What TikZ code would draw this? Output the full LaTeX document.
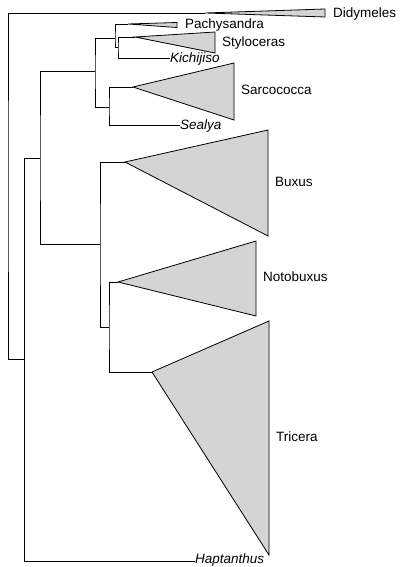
\documentclass[tikz,border=0pt]{standalone}
\usepackage{fontspec}
\setmainfont{Liberation Sans}
\begin{document}
\begin{tikzpicture}[x=1pt,y=-1pt,
  br/.style={draw=black,line width=0.8pt},
  clade/.style={draw=black,line width=0.8pt,fill=black!17,line join=miter},
  lab/.style={anchor=west,inner sep=0pt,text height=9.7pt,text depth=0pt,font=\fontsize{13.5}{14}\selectfont},
  ilab/.style={lab,font=\fontsize{13.5}{14}\selectfont\itshape}]
\useasboundingbox (0,0) rectangle (401,567);
% internal nodes
\coordinate (R) at (8,186);
\coordinate (A) at (24.5,359);
\coordinate (B) at (40,158);
\coordinate (C) at (95,71);
\coordinate (F) at (115,38);
\coordinate (I) at (118,47);
\coordinate (G) at (109,107);
\coordinate (E) at (100,244);
\coordinate (J) at (109,327);
% clade apices
\coordinate (dA) at (205,13);
\coordinate (pA) at (128,24);
\coordinate (sA) at (135,37);
\coordinate (scA) at (133,87);
\coordinate (bA) at (125,162);
\coordinate (nA) at (118,282);
\coordinate (tA) at (152,372);
\coordinate (hE) at (195,561);
% clade triangles
\draw[clade] (dA) -- (325,9) -- (325,17) -- cycle;
\draw[clade] (pA) -- (177,22.5) -- (177,27.5) -- cycle;
\draw[clade] (sA) -- (215,32) -- (215,53) -- cycle;
\draw[clade] (scA) -- (234,63) -- (234,120) -- cycle;
\draw[clade] (bA) -- (268,130) -- (268,236) -- cycle;
\draw[clade] (nA) -- (256,241) -- (256,316) -- cycle;
\draw[clade] (tA) -- (269,321) -- (269,555) -- cycle;
% labels
\node[lab] (Ldid) at (333,13) {Didymeles};
\node[lab] (Lpac) at (185,24) {Pachysandra};
\node[lab] (Lsty) at (222,42) {Styloceras};
\node[ilab] (Lkic) at (170,58) {Kichijiso};
\node[lab] (Lsar) at (241,90) {Sarcococca};
\node[ilab] (Lsea) at (180,125) {Sealya};
\node[lab] (Lbux) at (275,182) {Buxus};
\node[lab] (Lnot) at (263,277) {Notobuxus};
\node[lab] (Ltri) at (276,437) {Tricera};
\node[ilab] (Lhap) at (195,558.5) {Haptanthus};
% branches
\draw[br] (dA) -| (R) |- (A);
\draw[br] (B) -| (A) |- (hE);
\draw[br] (C) -| (B) |- (E);
\draw[br] (F) -| (C) |- (G);
\draw[br] (pA) -| (F) |- (I);
\draw[br] (sA) -| (I) |- (Lkic.west);
\draw[br] (scA) -| (G) |- (Lsea.west);
\draw[br] (bA) -| (E) |- (J);
\draw[br] (nA) -| (J) |- (tA);
\end{tikzpicture}
\end{document}
